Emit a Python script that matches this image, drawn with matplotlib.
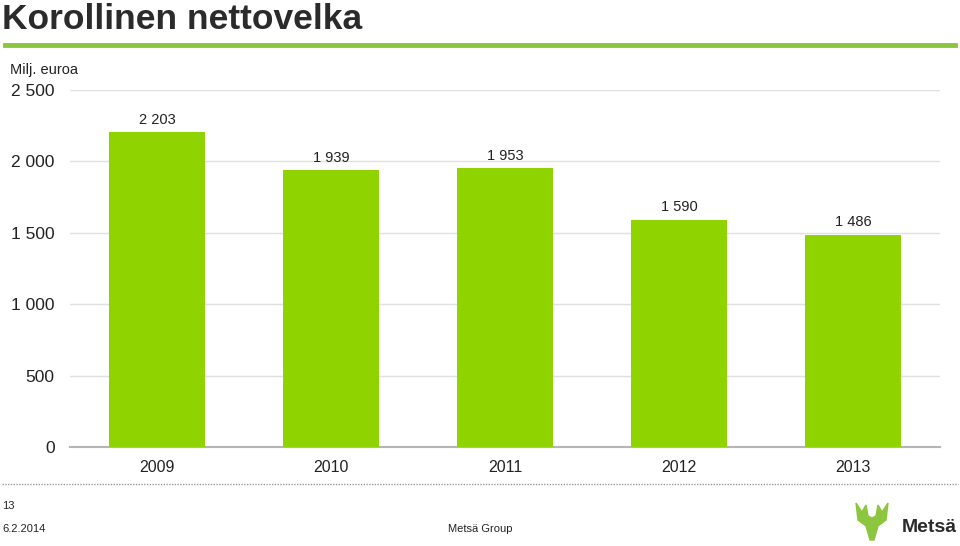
import matplotlib.pyplot as plt
from matplotlib.lines import Line2D
from matplotlib.patches import Polygon

# Chart data
years = ['2009', '2010', '2011', '2012', '2013']
net_debt = [2203, 1939, 1953, 1590, 1486]
y_ticks = [0, 500, 1000, 1500, 2000, 2500]

plt.rcParams['font.family'] = ['Liberation Sans', 'DejaVu Sans']

BAR_GREEN = '#8fd400'
LINE_GREEN = '#8cc63f'
TEXT = '#222222'


def fmt(v):
    # Finnish style thousands separator
    return f'{v:,}'.replace(',', ' ')


fig = plt.figure(figsize=(9.6, 5.46), dpi=100)
ax = fig.add_axes([70 / 960, 1 - 447 / 546, 870 / 960, 357 / 546])

x = range(len(years))
bars = ax.bar(x, net_debt, width=0.557, color=BAR_GREEN, zorder=3)

for rect, v in zip(bars, net_debt):
    ax.annotate(fmt(v), (rect.get_x() + rect.get_width() / 2, v),
                xytext=(0, 4), textcoords='offset points',
                ha='center', va='bottom', fontsize=10.5, color=TEXT)

ax.set_xlim(-0.5, len(years) - 0.5)
ax.set_ylim(0, 2500)
ax.set_yticks(y_ticks)
ax.set_yticklabels([fmt(t) for t in y_ticks], fontsize=12.5, color=TEXT)
ax.set_xticks(list(x))
ax.set_xticklabels(years, fontsize=11.5, color=TEXT)
ax.tick_params(axis='both', length=0)
ax.tick_params(axis='y', pad=11)
ax.tick_params(axis='x', pad=9)

ax.grid(axis='y', color='#e0e0e0', linewidth=1, zorder=0)
for side in ['top', 'right', 'left']:
    ax.spines[side].set_visible(False)
ax.spines['bottom'].set_color('#b5b5b5')
ax.spines['bottom'].set_linewidth(1.5)

fig.text(10 / 960, 1 - 70 / 546, 'Milj. euroa', ha='left', va='center',
         fontsize=10.5, color=TEXT)

# Slide decorations
fig.text(2 / 960, 1 - 29 / 546, 'Korollinen nettovelka', fontsize=25.5,
         fontweight='bold', color='#2b2b2b', ha='left', va='baseline')
fig.add_artist(Line2D([5 / 960, 955 / 960], [1 - 45 / 546, 1 - 45 / 546],
                      color=LINE_GREEN, linewidth=3.5))
fig.add_artist(Line2D([2 / 960, 958 / 960], [1 - 484 / 546, 1 - 484 / 546],
                      color='#9a9a9a', linewidth=1, linestyle=(0, (1, 1))))

fig.text(2 / 960, 1 - 506 / 546, '13', fontsize=8, color=TEXT, va='center')
fig.text(2 / 960, 1 - 529 / 546, '6.2.2014', fontsize=8, color=TEXT, va='center')
fig.text(480 / 960, 1 - 529 / 546, 'Metsä Group', fontsize=8, color=TEXT,
         ha='center', va='center')

# Simple logo: green antler mark and wordmark
antler = [(856, 503), (862, 512), (866, 505), (868, 516), (872, 518),
          (876, 516), (878, 505), (882, 512), (888, 503), (886, 520),
          (878, 526), (874, 540), (870, 540), (866, 526), (858, 520)]
fig.add_artist(Polygon([(px / 960, 1 - py / 546) for px, py in antler],
                       closed=True, color=LINE_GREEN, transform=fig.transFigure))
fig.text(957 / 960, 1 - 527 / 546, 'Metsä', fontsize=14, fontweight='bold',
         color='#2b2b2b', ha='right', va='center')

fig.savefig('out.png', dpi=100)
